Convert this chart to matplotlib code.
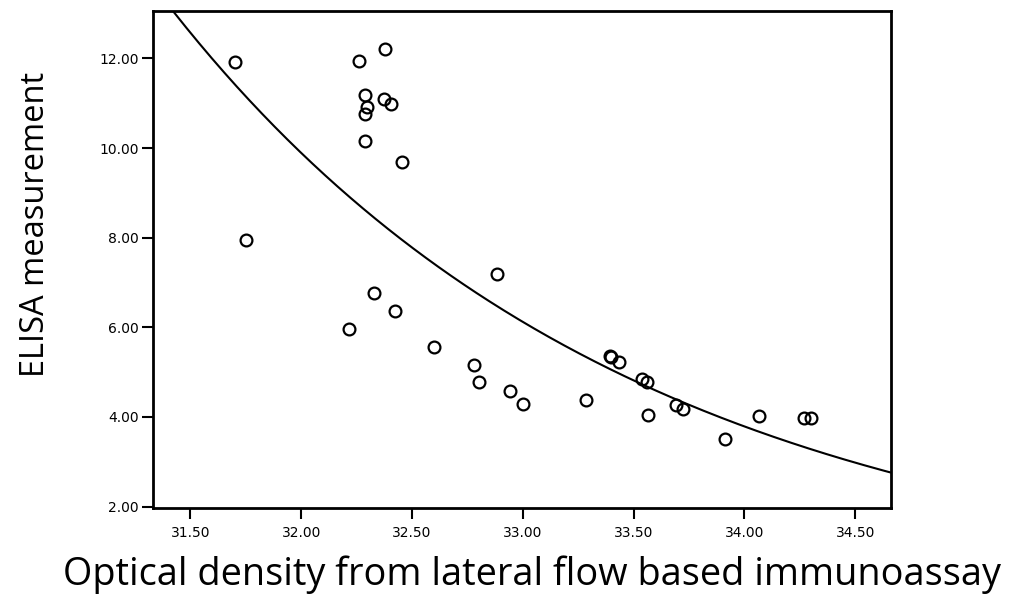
import numpy as np
import matplotlib
matplotlib.use("Agg")
import matplotlib.pyplot as plt

optical_density = [31.70, 31.75, 32.262, 32.378, 32.287, 32.375, 32.405, 32.295, 32.290,
                   32.289, 32.453, 32.885, 32.329, 32.424, 32.216, 32.600, 32.780, 32.802,
                   32.942, 33.000, 33.287, 33.393, 33.400, 33.436, 33.537, 33.560, 33.563,
                   33.692, 33.721, 33.913, 34.067, 34.267, 34.302]
elisa = [11.92, 7.95, 11.95, 12.21, 11.18, 11.09, 10.98, 10.92, 10.75,
         10.16, 9.70, 7.20, 6.76, 6.36, 5.96, 5.56, 5.16, 4.77,
         4.57, 4.29, 4.37, 5.37, 5.34, 5.22, 4.84, 4.79, 4.05,
         4.27, 4.17, 3.50, 4.02, 3.97, 3.97]

# exponential fit curve y = a * exp(b * x), coefficients
fit_b = -0.480
fit_ref_x = 31.421
fit_ref_y = 13.06

x_ticks = [31.5, 32.0, 32.5, 33.0, 33.5, 34.0, 34.5]
y_ticks = [2.0, 4.0, 6.0, 8.0, 10.0, 12.0]

fig = plt.figure(figsize=(10.24, 6.07), dpi=100)
ax = fig.add_axes([0.1494, 0.1626, 0.7206, 0.8193])

xs = np.linspace(31.3, 34.7, 300)
ax.plot(xs, fit_ref_y * np.exp(fit_b * (xs - fit_ref_x)), color="black", lw=1.5)
ax.plot(optical_density, elisa, "o", ms=8.5, mfc="none", mec="black", mew=1.6)

ax.set_xlim(31.331, 34.661)
ax.set_ylim(1.96, 13.06)
ax.set_xticks(x_ticks)
ax.set_yticks(y_ticks)
ax.set_xticklabels([f"{v:.2f}" for v in x_ticks])
ax.set_yticklabels([f"{v:.2f}" for v in y_ticks])
ax.tick_params(direction="out", length=8, width=1.5, labelsize=10)
ax.tick_params(axis="x", pad=5)
ax.tick_params(axis="y", pad=2)
for s in ax.spines.values():
    s.set_linewidth(2)

fig.text(0.5195, 0.0362, "Optical density from lateral flow based immunoassay",
         ha="center", va="baseline", fontsize=27.3, family="Open Sans")
fig.text(0.035, 0.631, "ELISA measurement", ha="center", va="center",
         rotation=90, fontsize=23.5, family="Open Sans")

fig.savefig("out.png", dpi=100)
